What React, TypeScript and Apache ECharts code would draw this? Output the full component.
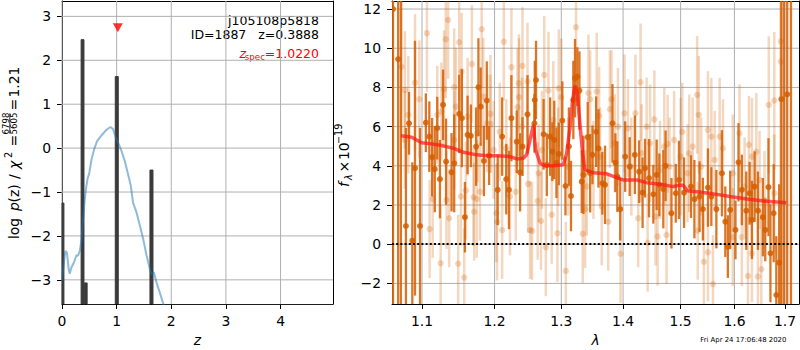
import React, { useEffect, useRef } from 'react';
import * as echarts from 'echarts';

// ---------- tick values ----------
const pzTicksX = [0, 1, 2, 3, 4];
const pzTicksY = [-3, -2, -1, 0, 1, 2, 3];
const specTicksX = [1.1, 1.2, 1.3, 1.4, 1.5, 1.6, 1.7];
const specTicksY = [-2, 0, 2, 4, 6, 8, 10, 12];

// ---------- left panel: log p(z) spikes ----------
const pzZ = [0.0, 0.0, 0.035, 0.035, 0.35, 0.35, 0.402, 0.402, 0.41, 0.41, 0.46, 0.46, 0.975, 0.975, 1.03, 1.03, 1.61, 1.61, 1.665, 1.665, 4.96];
const pzLogP = [-9, -1.25, -1.25, -9, -9, 2.47, 2.47, -9, -9, -3.07, -3.07, -9, -9, 1.63, 1.63, -9, -9, -0.5, -0.5, -9, -9];

// ---------- left panel: chi2 curve ----------
const chiZ = [0.0, 0.02, 0.062, 0.09, 0.123, 0.141, 0.172, 0.22, 0.264, 0.294, 0.325, 0.355, 0.386, 0.416, 0.447, 0.466, 0.5, 0.54, 0.587, 0.642, 0.69, 0.765, 0.826, 0.888, 0.936, 0.985, 1.03, 1.09, 1.15, 1.21, 1.26, 1.3, 1.365, 1.426, 1.486, 1.549, 1.609, 1.64, 1.68, 1.73, 1.79, 1.85, 1.9];
const chiLogP = [-3.0, -2.76, -2.34, -2.38, -2.76, -2.86, -2.72, -2.6, -2.44, -2.45, -2.34, -2.11, -1.62, -1.17, -0.86, -0.71, -0.56, -0.26, -0.03, 0.16, 0.24, 0.35, 0.43, 0.48, 0.43, 0.24, 0.12, -0.07, -0.3, -0.6, -0.86, -1.24, -1.47, -1.77, -2.07, -2.45, -2.76, -2.87, -2.83, -3.06, -3.29, -3.53, -3.75];

const zSpec = 1.022;
const zSpecMarkY = 2.74;

// ---------- right panel: spectrum (dark points) ----------
const darkLam = [1.0614, 1.0624, 1.069, 1.0725, 1.079, 1.083, 1.0873, 1.0908, 1.0974, 1.1051, 1.1097, 1.1134, 1.117, 1.1203, 1.1239, 1.1281, 1.1322, 1.1397, 1.1433, 1.1502, 1.1539, 1.1581, 1.1618, 1.1664, 1.1737, 1.177, 1.1802, 1.1848, 1.1889, 1.1922, 1.2045, 1.211, 1.217, 1.2209, 1.2245, 1.2324, 1.2373, 1.2409, 1.2484, 1.2588, 1.2593, 1.2612, 1.2727, 1.2776, 1.2827, 1.2861, 1.2891, 1.2925, 1.2961, 1.3016, 1.3065, 1.3119, 1.3152, 1.3189, 1.3216, 1.3253, 1.3286, 1.3323, 1.335, 1.3419, 1.3458, 1.3495, 1.3555, 1.3592, 1.3656, 1.37, 1.3823, 1.3871, 1.3903, 1.3952, 1.4035, 1.4111, 1.4199, 1.4273, 1.4331, 1.4373, 1.4442, 1.4517, 1.4575, 1.4622, 1.4692, 1.4732, 1.4836, 1.4913, 1.497, 1.5062, 1.5188, 1.525, 1.5344, 1.5406, 1.55, 1.5563, 1.5657, 1.5762, 1.5826, 1.5874, 1.5919, 1.602, 1.6078, 1.6143, 1.6229, 1.6294, 1.6339, 1.6392, 1.6457, 1.6555, 1.6602, 1.6667, 1.6706, 1.6771, 1.6824, 1.6882, 1.6927, 1.698, 1.7045, 1.7122];
const darkFlux = [14, 12.0, 9.44, -4, 0.93, 6.17, 0.18, 3.88, 0.93, 6.2, 5.49, 4.44, 3.83, 5.92, 3.32, 7.11, 4.21, 3.67, 4.13, 6.65, 6.43, 1.38, 5.58, 5.53, 4.98, 8.01, 7.02, 4.25, 7.33, 4.52, 2.77, 5.49, 3.32, 2.77, 6.43, 5.23, 3.67, 4.98, 6.63, 6.17, 7.36, 8.38, 5.61, 4.05, 5.49, 4.72, 5.32, 4.16, 4.61, 6.31, 2.97, 4.98, 2.46, 7.36, 8.47, 8.55, 7.84, 3.19, 3.54, 5.46, 3.62, 4.56, 5.74, 4.89, 3.11, 3.03, 6.17, 4.16, 3.45, 1.79, 4.47, 3.96, 4.56, 3.7, 2.63, 3.88, 3.37, 2.55, 3.54, 3.03, 2.81, 4.0, 1.58, 2.6, 3.28, 2.63, 2.94, 2.3, 2.43, 1.79, 2.89, 2.43, 1.79, 3.62, 1.15, -0.12, 1.75, 0.73, 4.18, 2.77, 1.71, 2.6, 1.24, 2.94, 1.71, 1.38, 0.73, 2.91, -0.46, 1.58, -2.59, -0.94, 7.4, 14, 7.65, -5];
const darkErr = [30, 30, 30, 30, 5, 1.6, 4, 6.5, 5, 1.5, 1.8, 2, 2.2, 1.6, 2, 1.8, 2.2, 2, 2.5, 2, 2.5, 1.8, 2, 1.6, 2, 2.5, 2, 1.8, 2, 1.5, 1.8, 2, 1.8, 2, 2.2, 1.6, 2, 1.5, 2, 1.5, 2, 2, 1.8, 1.6, 2, 1.5, 2, 1.8, 1.6, 2, 1.5, 2, 1.8, 2, 2, 1.5, 2, 1.6, 2, 1.8, 2, 1.5, 1.8, 2, 1.6, 2, 2, 1.5, 1.8, 1.6, 1.8, 1.5, 2, 1.6, 1.8, 1.5, 2, 1.5, 1.8, 1.6, 2, 1.8, 1.8, 1.5, 2, 1.8, 1.6, 2, 1.8, 1.6, 2, 1.5, 2, 2.2, 1.8, 1.6, 2, 1.5, 2, 1.8, 2, 1.6, 2, 1.8, 2, 2, 1.6, 2.5, 2.5, 2.5, 3, 4, 30, 30, 30, 30];

// ---------- right panel: spectrum (light points) ----------
const lightLam = [1.0734, 1.0777, 1.0777, 1.0821, 1.0908, 1.0965, 1.1065, 1.1101, 1.1142, 1.1203, 1.1249, 1.1259, 1.1295, 1.1318, 1.1328, 1.135, 1.1364, 1.1433, 1.1433, 1.1456, 1.1488, 1.1502, 1.1526, 1.1535, 1.1571, 1.1595, 1.1618, 1.1678, 1.1701, 1.171, 1.1747, 1.1757, 1.1792, 1.1816, 1.1839, 1.1895, 1.1941, 1.1941, 1.1987, 1.2025, 1.2036, 1.2075, 1.211, 1.2134, 1.217, 1.2224, 1.2245, 1.2309, 1.2334, 1.2355, 1.2358, 1.2404, 1.2409, 1.2484, 1.2493, 1.2523, 1.2552, 1.2637, 1.2652, 1.2687, 1.2702, 1.2737, 1.2761, 1.2801, 1.2851, 1.2876, 1.294, 1.2951, 1.2961, 1.3, 1.3071, 1.3108, 1.3232, 1.3339, 1.3377, 1.3403, 1.343, 1.3458, 1.3511, 1.3564, 1.3603, 1.3619, 1.3645, 1.3753, 1.378, 1.3806, 1.3861, 1.3914, 1.3958, 1.4024, 1.4082, 1.4139, 1.4209, 1.4256, 1.4296, 1.4314, 1.4401, 1.4418, 1.446, 1.4535, 1.4557, 1.4592, 1.4634, 1.4709, 1.4749, 1.4767, 1.4801, 1.4883, 1.5, 1.503, 1.5124, 1.5156, 1.5218, 1.53, 1.5311, 1.533, 1.5375, 1.5424, 1.55, 1.55, 1.5563, 1.5593, 1.5625, 1.5719, 1.5781, 1.5968, 1.5968, 1.6098, 1.6143, 1.6196, 1.6261, 1.628, 1.6339, 1.6339, 1.6426, 1.6457, 1.649, 1.6524, 1.6588, 1.6673, 1.6784, 1.6784, 1.6916, 1.6916];
const lightFlux = [9.06, 7.87, 5.32, 6.6, 8.24, 7.4, 10.77, 0.77, 2.3, 6.6, -0.97, 6.77, 7.91, 10.46, 2.26, 11.44, 1.33, 8.01, 5.32, 7.02, -1.0, 10.3, 2.43, 8.81, -1.7, 2.74, 6.51, 9.2, 2.4, 1.66, 2.31, 5.66, 2.68, 10.97, 7.53, 6.17, 6.14, 6.65, 4.81, 1.58, 1.15, 5.74, 0.73, 10.33, 4.9, 2.43, 9.03, 2.68, 6.99, 8.21, 7.5, 6.0, 9.1, 8.3, 3.08, 0.73, 0.68, 2.21, 3.62, 1.19, 4.81, 8.64, -0.15, 7.84, 1.5, 6.34, 0.56, 4.47, 7.96, 7.5, -1.36, 3.96, 11.07, 0.53, 1.79, 2.94, 7.7, 7.4, 3.79, 7.79, 6.55, 4.47, 1.92, 1.15, 6.89, 7.4, 5.15, 6.0, -0.49, 6.68, 5.92, 3.96, 6.68, 1.33, 8.26, 4.64, 6.0, 0.08, 5.15, 6.37, 1.41, 0.39, 3.79, 4.98, 0.47, 5.12, 3.96, 5.32, 4.47, 5.74, 3.62, 4.64, 4.98, 7.62, 0.69, 6.6, 3.96, -0.89, 5.83, -0.41, 5.49, -2.03, 4.3, 5.49, 4.9, 0.36, 3.62, 5.66, 0.36, 2.94, -1.62, 5.07, 4.47, -0.46, 4.72, -1.65, 3.28, -1.28, 2.26, 7.11, 7.33, 2.6, 10.34, 9.32];
const lightErr = [3.5, 3, 2.5, 3, 3.5, 3, 3, 2.5, 3, 2.5, 3, 2.5, 3, 3, 2.5, 3, 2.5, 3, 2.5, 3, 2.5, 3, 2.5, 3, 2.5, 2.5, 3, 3, 2.5, 2.5, 3, 2.5, 2.5, 3, 3, 2.5, 2.5, 3, 2.5, 2.5, 3, 2.5, 2.5, 3, 2.5, 3, 3, 2.5, 3, 2.5, 3, 2.5, 3, 3, 2.5, 2.5, 2.5, 3, 2.5, 2.5, 3, 3, 2.5, 3, 2.5, 3, 2.5, 2.5, 3, 3, 2.5, 2.5, 3, 2.5, 3, 2.5, 3, 2.5, 2.5, 3, 2.5, 2.5, 3, 2.5, 3, 2.5, 2.5, 3, 2.5, 3, 2.5, 2.5, 3, 2.5, 3, 2.5, 2.5, 2.5, 3, 2.5, 2.5, 2.5, 2.5, 3, 2.5, 2.5, 2.5, 2.5, 3, 2.5, 2.5, 3, 2.5, 3, 2.5, 3, 2.5, 2.5, 3, 2.5, 3, 2.5, 2.5, 3, 2.5, 2.5, 3, 2.5, 2.5, 2.5, 3, 2.5, 3, 2.5, 3, 3, 2.5, 3, 2.5, 3.5, 3.5, 3, 30, 30];

// ---------- right panel: model ----------
const modelLam = [1.0726, 1.0865, 1.0996, 1.1129, 1.1285, 1.142, 1.1559, 1.1746, 1.1887, 1.2031, 1.2224, 1.2323, 1.2421, 1.2471, 1.2522, 1.2572, 1.2606, 1.2673, 1.2749, 1.2877, 1.3031, 1.3084, 1.3138, 1.3178, 1.3216, 1.3251, 1.3297, 1.3337, 1.3372, 1.3511, 1.3728, 1.3894, 1.4, 1.4231, 1.4402, 1.4692, 1.4861, 1.4977, 1.5048, 1.5121, 1.5292, 1.5598, 1.5915, 1.624, 1.657, 1.7024];
const modelFlux = [5.53, 5.46, 5.18, 5.12, 5.02, 4.9, 4.69, 4.56, 4.52, 4.52, 4.47, 4.35, 4.39, 4.56, 5.32, 6.09, 4.81, 4.13, 4.0, 4.0, 4.05, 4.64, 6.0, 7.36, 8.08, 7.7, 6.0, 4.64, 3.79, 3.65, 3.59, 3.4, 3.28, 3.28, 3.14, 3.03, 2.94, 3.01, 3.01, 2.73, 2.68, 2.57, 2.43, 2.31, 2.21, 2.12];

const FONT = 'DejaVu Sans';
const ORANGE_DARK = 'rgba(213,94,0,0.85)';
const ORANGE_LIGHT = 'rgba(213,94,0,0.25)';
const GRID_COLOR = '#b0b0b0';
const PZ_XMIN = 0, PZ_XMAX = 4.96, PZ_YMIN = -3.55, PZ_YMAX = 3.35;
const SPEC_XMIN = Math.log10(1.1) - 30 / 1920;
const SPEC_XMAX = SPEC_XMIN + 407 / 1920;
const SPEC_YMIN = -3.05, SPEC_YMAX = 12.41;

const minus = (s: string) => s.replace('-', '\u2212');
const tickLabel = { color: '#000', fontSize: 13.9, fontFamily: FONT };

const errItem = (color: string, lw: number, r: number) => (_p: any, api: any) => {
  const x = api.value(0), y = api.value(1), e = api.value(2);
  const lo = api.coord([x, y - e]);
  const hi = api.coord([x, y + e]);
  const c = api.coord([x, y]);
  return {
    type: 'group',
    children: [
      { type: 'line', shape: { x1: lo[0], y1: lo[1], x2: hi[0], y2: hi[1] }, style: { stroke: color, lineWidth: lw } },
      { type: 'circle', shape: { cx: c[0], cy: c[1], r }, style: { fill: color } },
    ],
  };
};

// grid lines: one short line series per tick, spanning the axis range
const gridLines = (idx: number, xs: number[], ys: number[], x0: number, x1: number, y0: number, y1: number) => [
  ...xs.map((v) => ({
    type: 'line', xAxisIndex: idx, yAxisIndex: idx, symbol: 'none', silent: true, z: 1, clip: false,
    data: [[v, y0], [v, y1]], lineStyle: { color: GRID_COLOR, width: 1 },
  })),
  ...ys.map((v) => ({
    type: 'line', xAxisIndex: idx, yAxisIndex: idx, symbol: 'none', silent: true, z: 1, clip: false,
    data: [[x0, v], [x1, v]], lineStyle: { color: GRID_COLOR, width: 1 },
  })),
];

const txt = (x: number, y: number, text: string, size: number, extra: any = {}) => ({
  type: 'text', x, y, silent: true,
  style: {
    text, fontSize: size, fontFamily: FONT, fill: '#000',
    align: 'left', textAlign: 'left', verticalAlign: 'middle', textVerticalAlign: 'middle',
    ...extra,
  },
});

function buildOption() {
  const axisCommon = (ticks: number[], fmt: (v: number) => string, margin: number) => ({
    axisLine: { show: true, onZero: false, lineStyle: { color: '#000', width: 1 } },
    axisTick: { show: true, length: 5, lineStyle: { color: '#000', width: 1 }, customValues: ticks },
    axisLabel: { ...tickLabel, margin, customValues: ticks, formatter: fmt },
    splitLine: { show: false },
  });
  const frameAxis = (grid: number, min: number, max: number, position: string) => ({
    gridIndex: grid, type: 'value', min, max, position,
    axisLine: { show: true, onZero: false, lineStyle: { color: '#000', width: 1 } },
    axisTick: { show: false }, axisLabel: { show: false }, splitLine: { show: false },
  });
  const specX = specTicksX.map((v) => Math.log10(v));

  return {
    animation: false,
    backgroundColor: '#fff',
    grid: [
      { left: 62, top: 1, width: 271, height: 303, show: false, containLabel: false, outerBoundsMode: 'none' },
      { left: 392, top: 1, width: 407, height: 303, show: false, containLabel: false, outerBoundsMode: 'none' },
    ],
    xAxis: [
      {
        gridIndex: 0, type: 'value', min: PZ_XMIN, max: PZ_XMAX, position: 'bottom',
        ...axisCommon(pzTicksX, (v: number) => minus(String(v)), 10),
        name: 'z', nameLocation: 'middle', nameGap: 28,
        nameTextStyle: { ...tickLabel, fontStyle: 'italic' },
      },
      {
        gridIndex: 1, type: 'value', min: SPEC_XMIN, max: SPEC_XMAX, position: 'bottom',
        ...axisCommon(specX, (v: number) => Math.pow(10, v).toFixed(1), 10),
        name: 'λ', nameLocation: 'middle', nameGap: 28,
        nameTextStyle: { ...tickLabel, fontStyle: 'italic' },
      },
      frameAxis(0, PZ_XMIN, PZ_XMAX, 'top'),
      frameAxis(1, SPEC_XMIN, SPEC_XMAX, 'top'),
    ],
    yAxis: [
      { gridIndex: 0, type: 'value', min: PZ_YMIN, max: PZ_YMAX, position: 'left', ...axisCommon(pzTicksY, (v: number) => minus(String(v)), 11) },
      { gridIndex: 1, type: 'value', min: SPEC_YMIN, max: SPEC_YMAX, position: 'left', ...axisCommon(specTicksY, (v: number) => minus(String(v)), 11) },
      frameAxis(0, PZ_YMIN, PZ_YMAX, 'right'),
      frameAxis(1, SPEC_YMIN, SPEC_YMAX, 'right'),
    ],
    series: [
      ...gridLines(0, pzTicksX, pzTicksY, PZ_XMIN, PZ_XMAX, PZ_YMIN, PZ_YMAX),
      ...gridLines(1, specX, specTicksY, SPEC_XMIN, SPEC_XMAX, SPEC_YMIN, SPEC_YMAX),
      {
        type: 'line', xAxisIndex: 0, yAxisIndex: 0, symbol: 'none', clip: true,
        data: pzZ.map((z, i) => [z, pzLogP[i]]),
        lineStyle: { color: '#3a3a3a', width: 1 },
        areaStyle: { origin: 'start', color: '#3a3a3a', opacity: 1 },
        z: 2,
      },
      {
        type: 'line', xAxisIndex: 0, yAxisIndex: 0, symbol: 'none', clip: true,
        data: chiZ.map((z, i) => [z, chiLogP[i]]),
        lineStyle: { color: 'rgba(31,119,180,0.5)', width: 2 },
        z: 3,
      },
      {
        type: 'scatter', xAxisIndex: 0, yAxisIndex: 0,
        data: [[zSpec, zSpecMarkY]],
        symbol: 'triangle', symbolRotate: 180, symbolSize: [10, 9],
        itemStyle: { color: '#ff0000' },
        z: 4,
      },
      {
        type: 'custom', xAxisIndex: 1, yAxisIndex: 1, clip: true,
        data: lightLam.map((l, i) => [Math.log10(l), lightFlux[i], lightErr[i]]),
        encode: { x: 0, y: 1 },
        renderItem: errItem(ORANGE_LIGHT, 2.5, 3.2),
        z: 2,
      },
      {
        type: 'custom', xAxisIndex: 1, yAxisIndex: 1, clip: true,
        data: darkLam.map((l, i) => [Math.log10(l), darkFlux[i], darkErr[i]]),
        encode: { x: 0, y: 1 },
        renderItem: errItem(ORANGE_DARK, 2.3, 3),
        z: 3,
      },
      {
        type: 'line', xAxisIndex: 1, yAxisIndex: 1, symbol: 'none', clip: true,
        data: modelLam.map((l, i) => [Math.log10(l), modelFlux[i]]),
        lineStyle: { color: 'rgba(255,20,20,0.7)', width: 3.5 },
        z: 4,
        markLine: {
          silent: true, symbol: ['none', 'none'], label: { show: false },
          lineStyle: { color: '#000', type: [2, 2.2], width: 2 },
          data: [{ yAxis: 0 }],
          z: 6,
        },
      },
    ],
    graphic: [
      // left panel annotations
      txt(319, 20, 'j105108p5818', 12.5, { align: 'right', textAlign: 'right' }),
      txt(319, 34.5, 'ID=1887   z=0.3888', 12.5, { align: 'right', textAlign: 'right' }),
      txt(319, 53.3, '=1.0220', 12.5, { align: 'right', textAlign: 'right', fill: '#ff0000' }),
      txt(265, 56.5, 'spec', 8.7, { align: 'right', textAlign: 'right', fill: '#ff0000' }),
      txt(246, 53.3, 'z', 12.5, { align: 'right', textAlign: 'right', fill: '#ff0000', fontStyle: 'italic' }),
      // left y label (rotated)
      {
        type: 'group', x: 13.5, y: 238, rotation: Math.PI / 2,
        children: [
          txt(-1, 0, 'log', 13.9),
          txt(27, 0, 'p', 13.9, { fontStyle: 'italic' }),
          txt(35.5, 0, '(z)', 13.9),
          txt(59, 0, '/', 13.9),
          txt(69, 0, 'χ', 13.9, { fontStyle: 'italic' }),
          txt(80, -5, '2', 9.7),
          txt(91.5, 0, '=', 13.9),
          txt(114.5, -7.8, '6798', 8.6, { align: 'center', textAlign: 'center' }),
          { type: 'line', silent: true, shape: { x1: 104.5, y1: -3.7, x2: 124.5, y2: -3.7 }, style: { stroke: '#000', lineWidth: 0.8 } },
          txt(114.5, 0.6, '5605', 8.6, { align: 'center', textAlign: 'center' }),
          txt(127.5, 0, '=', 13.9),
          txt(140.5, 0, '1.21', 13.9),
        ],
      },
      // right y label (rotated)
      {
        type: 'group', x: 344, y: 187, rotation: Math.PI / 2,
        children: [
          txt(0, 0, 'f', 13.9, { fontStyle: 'italic' }),
          txt(7, 4, 'λ', 9.7, { fontStyle: 'italic' }),
          txt(14.5, 0, '×', 13.9),
          txt(27, 0, '10', 13.9),
          txt(43, -6, '\u221219', 9.7),
        ],
      },
      // timestamp
      txt(743.3, 340, 'Fri Apr 24 17:06:48 2020', 6.9, { align: 'center', textAlign: 'center' }),
    ],
  };
}

export default function App() {
  const ref = useRef<HTMLDivElement>(null);
  useEffect(() => {
    if (!ref.current) return;
    const chart = echarts.init(ref.current, null, { renderer: 'svg' });
    chart.setOption(buildOption() as any);
    return () => chart.dispose();
  }, []);
  return (
    <div
      ref={ref}
      style={{ position: 'fixed', left: 0, top: 0, width: 800, height: 350, background: '#fff' }}
    />
  );
}
